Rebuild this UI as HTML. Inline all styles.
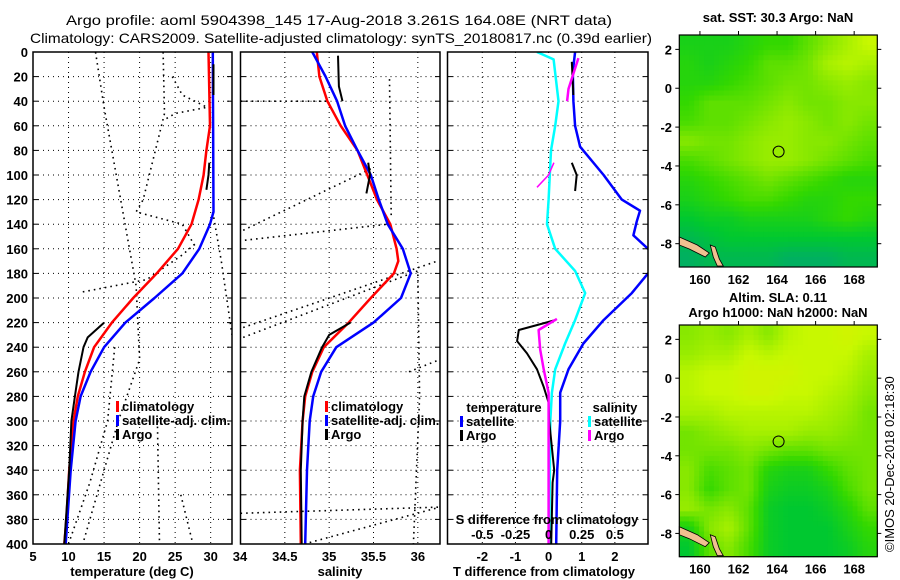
<!DOCTYPE html>
<html><head><meta charset="utf-8"><style>
html,body{margin:0;padding:0;background:#fff;}
svg{display:block;font-family:"Liberation Sans",sans-serif;}
.t{font-weight:bold;font-size:13px;fill:#000;}
</style></head><body>
<svg id="fig" width="900" height="580" viewBox="0 0 900 580" xmlns="http://www.w3.org/2000/svg">
<text x="66" y="25" textLength="546" lengthAdjust="spacingAndGlyphs" font-size="14">Argo profile: aoml 5904398_145 17-Aug-2018 3.261S 164.08E (NRT data)</text>
<text x="30" y="43" textLength="622" lengthAdjust="spacingAndGlyphs" font-size="14">Climatology: CARS2009. Satellite-adjusted climatology: synTS_20180817.nc (0.39d earlier)</text>
<text class="t" x="778" y="22" text-anchor="middle">sat. SST: 30.3 Argo: NaN</text>
<text class="t" x="778" y="302" text-anchor="middle">Altim. SLA: 0.11</text>
<text class="t" x="778" y="317" text-anchor="middle">Argo h1000: NaN h2000: NaN</text>
<text x="0" y="0" font-size="13" transform="translate(894,552) rotate(-90)">©IMOS 20-Dec-2018 02:18:30</text>
</svg>
<script>
// ---------- data ----------
const depthTicks = [0,20,40,60,80,100,120,140,160,180,200,220,240,260,280,300,320,340,360,380,400];
const tempTicks = [5,10,15,20,25,30];
const salTicks = [34,34.5,35,35.5,36];
const tdiffTicks = [-2,-1,0,1,2];
const sdiffTicks = [-0.5,-0.25,0,0.25,0.5];
const sdiffLabels = ['-0.5','-0.25','0','0.25','0.5'];

const climTDepth = [0,60,80,100,120,140,160,180,200,220,240,260,280,300,340,380,400];
const climTValue = [29.7,29.9,29.4,29.0,28.3,27.3,25.4,22.4,19.1,16.1,13.6,12.3,11.3,10.7,10.1,9.7,9.4];
const satTDepth = [0,130,140,160,180,200,220,240,260,280,300,340,400];
const satTValue = [30.3,30.4,29.9,28.4,26.0,22.1,18.0,15.0,13.1,11.7,11.0,10.3,9.6];
const argoTDepth1 = [10,35];
const argoTValue1 = [30.4,30.4];
const argoTDepth2 = [90,100,112];
const argoTValue2 = [29.8,29.7,29.4];
const argoTDepth3 = [220,232,240,260,280,300,340,400];
const argoTValue3 = [15.0,12.7,12.1,11.4,10.9,10.4,10.1,9.4];

const climSDepth = [0,20,40,60,80,100,120,140,160,170,180,200,220,240,260,280,300,340,400];
const climSValue = [34.86,34.89,34.98,35.13,35.32,35.43,35.54,35.69,35.76,35.78,35.73,35.47,35.22,34.94,34.81,34.73,34.70,34.67,34.68];
const satSDepth = [0,20,40,60,80,100,120,140,160,180,200,220,240,260,280,300,340,400];
const satSValue = [34.81,34.96,35.09,35.18,35.32,35.47,35.56,35.66,35.83,35.92,35.81,35.50,35.08,34.91,34.82,34.78,34.75,34.73];
const argoSDepth1 = [3,28,40];
const argoSValue1 = [35.10,35.11,35.15];
const argoSDepth2 = [90,100,115];
const argoSValue2 = [35.44,35.46,35.42];
const argoSDepth3 = [220,230,240,260,280,300,340,400];
const argoSValue3 = [35.24,35.00,34.92,34.80,34.72,34.70,34.68,34.69];

const satTdDepth = [0,16,40,60,77,100,120,129,138,149,160,165,175,180,196,218,237,258,277,300,340,400];
const satTdValue = [0.80,0.73,0.75,0.80,0.95,1.66,2.21,2.76,2.66,2.56,3.0,3.4,3.4,3.0,2.51,1.66,1.05,0.60,0.35,0.35,0.26,0.23];
const satSdDepth = [0,6,40,60,80,120,140,160,178,196,218,237,258,277,300,400];
const satSdValue = [-0.087,0.038,0.075,0.05,0.018,0.0,-0.012,0.05,0.2,0.276,0.2,0.125,0.05,0.025,0.013,0.005];
const argoTdDepth1 = [8,35];
const argoTdValue1 = [0.70,0.75];
const argoTdDepth2 = [90,100,113];
const argoTdValue2 = [0.70,0.85,0.80];
const argoTdDepth3 = [218,226,235,245,258,272,285,300,340,350,400];
const argoTdValue3 = [0.2,-0.9,-0.95,-0.65,-0.35,-0.15,0.0,0.02,0.17,0.12,0.08];
const argoSdDepth1 = [5,30,40];
const argoSdValue1 = [0.225,0.15,0.14];
const argoSdDepth2 = [90,100,110];
const argoSdValue2 = [0.04,0.0,-0.087];
const argoSdDepth3 = [217,226,242,258,277,300,400];
const argoSdValue3 = [0.063,-0.075,-0.063,-0.037,0.0,0.0,0.0];

// neighbouring profiles (dotted) [value, depth] pairs
const nbrT = [
 [[13.8,0],[15,45],[19.5,190],[20,250],[17,300],[14,360],[12,400]],
 [[23.3,0],[23.5,50],[20.5,120],[19.5,130],[26,140],[28,160]],
 [[24.6,20],[26,35],[29.5,45],[25,50],[23.5,55]],
 [[30.3,130],[31.5,170],[33,230]],
 [[12,195],[21,185],[26,165],[28,155]],
 [[16.5,240],[15.5,300],[13,350],[10,400]],
 [[25.8,360],[27.5,400]],
 [[22.5,300],[22.8,400]]
];
const nbrS = [
 [[34.0,40],[35.0,40]],
 [[34.03,145],[35.47,95]],
 [[34.05,153],[35.66,140]],
 [[35.68,22],[35.7,133]],
 [[34.03,224],[36.22,170]],
 [[34.03,232],[36.0,178],[36.02,280],[35.95,400]],
 [[34.0,375],[36.25,370]],
 [[34.72,400],[36.25,370]],
 [[35.9,260],[36.25,250]]
];

// map grids (0..1 colour index), rows north->south, cols west->east
const sstGrid = [
 [0.3,0.3,0.3,0.35,0.4,0.4,0.5,0.6,0.7,0.8],
 [0.35,0.3,0.35,0.4,0.5,0.5,0.55,0.7,0.75,0.7],
 [0.35,0.35,0.4,0.45,0.5,0.55,0.55,0.6,0.65,0.6],
 [0.4,0.5,0.5,0.5,0.55,0.6,0.55,0.55,0.6,0.6],
 [0.45,0.5,0.5,0.55,0.6,0.65,0.6,0.55,0.6,0.55],
 [0.6,0.55,0.55,0.6,0.65,0.65,0.6,0.6,0.55,0.5],
 [0.45,0.5,0.55,0.6,0.65,0.65,0.6,0.55,0.5,0.45],
 [0.35,0.4,0.45,0.5,0.55,0.5,0.45,0.4,0.35,0.35],
 [0.3,0.35,0.4,0.45,0.45,0.4,0.35,0.35,0.4,0.4],
 [0.2,0.25,0.25,0.3,0.3,0.3,0.3,0.35,0.4,0.35],
 [0.1,0.15,0.2,0.2,0.2,0.2,0.2,0.2,0.2,0.2],
 [0.05,0.1,0.1,0.1,0.1,0.05,0.05,0.05,0.1,0.1]
];
const slaGrid = [
 [0.6,0.65,0.6,0.7,0.6,0.75,0.8,0.8,0.85,0.8],
 [0.65,0.7,0.7,0.8,0.75,0.8,0.8,0.8,0.8,0.7],
 [0.75,0.8,0.8,0.85,0.85,0.85,0.8,0.8,0.75,0.65],
 [0.75,0.8,0.8,0.85,0.85,0.8,0.8,0.75,0.7,0.6],
 [0.7,0.7,0.75,0.75,0.75,0.75,0.75,0.7,0.65,0.55],
 [0.55,0.6,0.65,0.7,0.7,0.7,0.65,0.65,0.6,0.55],
 [0.55,0.55,0.55,0.6,0.55,0.5,0.5,0.55,0.55,0.55],
 [0.6,0.45,0.5,0.55,0.35,0.3,0.3,0.4,0.5,0.55],
 [0.6,0.4,0.5,0.55,0.3,0.25,0.25,0.3,0.45,0.55],
 [0.65,0.55,0.6,0.5,0.25,0.2,0.2,0.25,0.35,0.5],
 [0.3,0.6,0.7,0.5,0.25,0.2,0.2,0.2,0.3,0.4],
 [0.2,0.5,0.6,0.45,0.25,0.2,0.2,0.2,0.25,0.35]
];
const lonTicks = [160,162,164,166,168];
const latTicks = [2,0,-2,-4,-6,-8];
const profLon = 164.08, profLat = -3.261;

// ---------- drawing ----------
const NS = 'http://www.w3.org/2000/svg';
const svg = document.getElementById('fig');
function mk(tag, attrs, name, parent) {
  const el = document.createElementNS(NS, tag);
  for (const k in attrs) el.setAttribute(k, attrs[k]);
  
  
  (parent || svg).appendChild(el);
  return el;
}
function txt(x, y, s, name, anchor, parent) {
  const t = mk('text', {x:x, y:y, class:'t', 'text-anchor':anchor||'middle'}, name, parent);
  t.textContent = s;
  return t;
}
const Y0 = 52, Y1 = 544;
const yD = d => Y0 + d / 400 * (Y1 - Y0);
function scale(d0, d1, p0, p1) { return v => p0 + (v - d0) / (d1 - d0) * (p1 - p0); }

const P1 = {x0:33, x1:232, sx:scale(5,33,33,232)};
const P2 = {x0:240.5, x1:440, sx:scale(34,36.25,240.5,440)};
const P3 = {x0:447.5, x1:648, sx:scale(-3.05,3.0,447.5,648)};
const sdx = v => P3.sx(v * 4);

function panel(P, id) {
  const g = mk('g', {}, id + '-panel');
  const cp = mk('clipPath', {id:'clip-' + id}, id + '-clip', g);
  mk('rect', {x:P.x0, y:Y0, width:P.x1 - P.x0, height:Y1 - Y0}, id + '-clip-rect', cp);
  const inner = mk('g', {'clip-path':'url(#clip-' + id + ')'}, id + '-plot-area', g);
  depthTicks.forEach(d => {
    if (d > 0 && d < 400) {
      mk('line', {x1:P.x0, x2:P.x1, y1:yD(d), y2:yD(d), stroke:'#000', 'stroke-width':1, 'stroke-dasharray':'1 4'}, id + '-depth-gridline', inner);
    }
    mk('line', {x1:P.x0, x2:P.x0 + 5, y1:yD(d), y2:yD(d), stroke:'#000'}, id + '-depth-tick', g);
    mk('line', {x1:P.x1 - 5, x2:P.x1, y1:yD(d), y2:yD(d), stroke:'#000'}, id + '-depth-tick-right', g);
  });
  return {g:g, inner:inner};
}
function vgrid(P, ticks, sx, pan, id) {
  ticks.forEach(v => {
    const x = sx(v);
    if (x > P.x0 + 2 && x < P.x1 - 2) {
      mk('line', {x1:x, x2:x, y1:Y0, y2:Y1, stroke:'#000', 'stroke-dasharray':'1 4'}, id + '-x-gridline', pan.inner);
    }
  });
}
function series(sx, depths, values, color, w, name, parent) {
  const pts = depths.map((d, i) => sx(values[i]).toFixed(1) + ',' + yD(d).toFixed(1)).join(' ');
  return mk('polyline', {points:pts, fill:'none', stroke:color, 'stroke-width':w, 'stroke-linejoin':'round'}, name, parent);
}
function dotted(sx, prof, name, parent) {
  const pts = prof.map(p => sx(p[0]).toFixed(1) + ',' + yD(p[1]).toFixed(1)).join(' ');
  return mk('polyline', {points:pts, fill:'none', stroke:'#000', 'stroke-width':1.6, 'stroke-dasharray':'1.6 4'}, name, parent);
}
function frame(P, id, g) {
  mk('rect', {x:P.x0, y:Y0, width:P.x1 - P.x0, height:Y1 - Y0, fill:'none', stroke:'#000', 'stroke-width':1.5}, id + '-frame', g);
}
function legendEntry(x, y, color, label, name) {
  mk('rect', {x:x, y:y - 10, width:3, height:11, fill:color}, name + '-swatch');
  txt(x + 6, y, label, name, 'start');
}

// Panel 1: temperature
const p1 = panel(P1, 'temperature');
vgrid(P1, tempTicks, P1.sx, p1, 'temperature');
nbrT.forEach(p => dotted(P1.sx, p, 'neighbour-temperature-profile', p1.inner));
series(P1.sx, climTDepth, climTValue, '#ff0000', 2.5, 'climatology-temperature-line', p1.inner);
series(P1.sx, satTDepth, satTValue, '#0000ff', 2.5, 'satellite-temperature-line', p1.inner);
series(P1.sx, argoTDepth1, argoTValue1, '#000', 2, 'argo-temperature-line-top', p1.inner);
series(P1.sx, argoTDepth2, argoTValue2, '#000', 2, 'argo-temperature-line-mid', p1.inner);
series(P1.sx, argoTDepth3, argoTValue3, '#000', 2, 'argo-temperature-line-deep', p1.inner);
frame(P1, 'temperature', p1.g);
depthTicks.forEach(d => txt(28, yD(d) + 5, String(d), 'depth-tick-label', 'end'));
tempTicks.forEach(v => txt(P1.sx(v), 561, String(v), 'temperature-tick-label'));
txt(240, 561, '34', 'salinity-tick-label-34');
txt(132, 576, 'temperature (deg C)', 'temperature-axis-title');
legendEntry(116, 411, '#ff0000', 'climatology', 'legend-climatology');
legendEntry(116, 425, '#0000ff', 'satellite-adj. clim.', 'legend-satellite-adj');
legendEntry(116, 439, '#000', 'Argo', 'legend-argo');

// Panel 2: salinity
const p2 = panel(P2, 'salinity');
vgrid(P2, salTicks, P2.sx, p2, 'salinity');
nbrS.forEach(p => dotted(P2.sx, p, 'neighbour-salinity-profile', p2.inner));
series(P2.sx, climSDepth, climSValue, '#ff0000', 2.5, 'climatology-salinity-line', p2.inner);
series(P2.sx, satSDepth, satSValue, '#0000ff', 2.5, 'satellite-salinity-line', p2.inner);
series(P2.sx, argoSDepth1, argoSValue1, '#000', 2, 'argo-salinity-line-top', p2.inner);
series(P2.sx, argoSDepth2, argoSValue2, '#000', 2, 'argo-salinity-line-mid', p2.inner);
series(P2.sx, argoSDepth3, argoSValue3, '#000', 2, 'argo-salinity-line-deep', p2.inner);
frame(P2, 'salinity', p2.g);
salTicks.slice(1).forEach(v => txt(P2.sx(v), 561, String(v), 'salinity-tick-label'));
txt(340, 576, 'salinity', 'salinity-axis-title');
legendEntry(325, 411, '#ff0000', 'climatology', 'legend-climatology-s');
legendEntry(325, 425, '#0000ff', 'satellite-adj. clim.', 'legend-satellite-adj-s');
legendEntry(325, 439, '#000', 'Argo', 'legend-argo-s');

// Panel 3: differences
const p3 = panel(P3, 'difference');
vgrid(P3, tdiffTicks, P3.sx, p3, 'difference');
series(sdx, satSdDepth, satSdValue, '#00ffff', 2.5, 'satellite-salinity-difference-line', p3.inner);
series(P3.sx, satTdDepth, satTdValue, '#0000ff', 2.5, 'satellite-temperature-difference-line', p3.inner);
series(P3.sx, argoTdDepth1, argoTdValue1, '#000', 2, 'argo-temperature-difference-top', p3.inner);
series(P3.sx, argoTdDepth2, argoTdValue2, '#000', 2, 'argo-temperature-difference-mid', p3.inner);
series(P3.sx, argoTdDepth3, argoTdValue3, '#000', 2, 'argo-temperature-difference-deep', p3.inner);
series(sdx, argoSdDepth1, argoSdValue1, '#ff00ff', 2.5, 'argo-salinity-difference-top', p3.inner);
series(sdx, argoSdDepth2, argoSdValue2, '#ff00ff', 1.5, 'argo-salinity-difference-mid', p3.inner);
series(sdx, argoSdDepth3, argoSdValue3, '#ff00ff', 2.5, 'argo-salinity-difference-deep', p3.inner);
frame(P3, 'difference', p3.g);
tdiffTicks.forEach(v => txt(P3.sx(v), 561, String(v), 'temperature-difference-tick-label'));
txt(544, 576, 'T difference from climatology', 'temperature-difference-axis-title');
txt(547, 524, 'S difference from climatology', 'salinity-difference-axis-title');
sdiffTicks.forEach((v, i) => txt(sdx(v), 539, sdiffLabels[i], 'salinity-difference-tick-label'));
txt(504, 412, 'temperature', 'legend-temperature-heading');
txt(615, 412, 'salinity', 'legend-salinity-heading');
legendEntry(460, 426, '#0000ff', 'satellite', 'legend-temp-satellite');
legendEntry(460, 440, '#000', 'Argo', 'legend-temp-argo');
legendEntry(588, 426, '#00ffff', 'satellite', 'legend-sal-satellite');
legendEntry(588, 440, '#ff00ff', 'Argo', 'legend-sal-argo');

// Maps
const cmapStops = [[0,[0,168,112]],[0.2,[0,200,48]],[0.4,[51,216,0]],[0.6,[136,232,0]],[0.8,[200,248,0]],[1,[232,232,0]]];
function cmap(v) {
  for (let i = 1; i < cmapStops.length; i++) {
    if (v <= cmapStops[i][0]) {
      const a = cmapStops[i-1], b = cmapStops[i], t = (v - a[0]) / (b[0] - a[0]);
      return 'rgb(' + a[1].map((c, k) => Math.round(c + (b[1][k] - c) * t)).join(',') + ')';
    }
  }
  return 'rgb(232,232,0)';
}
function sampleGrid(grid, fr, fc) {
  const rows = grid.length, cols = grid[0].length;
  const r = Math.min(Math.max(fr * rows - 0.5, 0), rows - 1);
  const c = Math.min(Math.max(fc * cols - 0.5, 0), cols - 1);
  const r0 = Math.floor(r), c0 = Math.floor(c);
  const r1 = Math.min(r0 + 1, rows - 1), c1 = Math.min(c0 + 1, cols - 1);
  const tr = r - r0, tc = c - c0;
  const top = grid[r0][c0] * (1 - tc) + grid[r0][c1] * tc;
  const bot = grid[r1][c0] * (1 - tc) + grid[r1][c1] * tc;
  return top * (1 - tr) + bot * tr;
}
const MX0 = 679.3, MX1 = 877.3;
const lonX = scale(158.93, 169.2, MX0, MX1);
function drawMap(grid, top, bottom, id) {
  const latY = scale(2.74, -9.2, top, bottom);
  const g = mk('g', {}, id);
  const NR = 46, NC = 40;
  const cw = (MX1 - MX0) / NC, ch = (bottom - top) / NR;
  for (let r = 0; r < NR; r++) {
    for (let c = 0; c < NC; c++) {
      const v = sampleGrid(grid, (r + 0.5) / NR, (c + 0.5) / NC);
      mk('rect', {x:(MX0 + c * cw).toFixed(2), y:(top + r * ch).toFixed(2), width:(cw + 0.5).toFixed(2), height:(ch + 0.5).toFixed(2), fill:cmap(v)}, id + '-cell', g);
    }
  }
  // land (New Guinea / Solomon area fragments, bottom-left)
  mk('path', {d:'M'+MX0+','+(bottom-30)+' L'+(MX0+18)+','+(bottom-22)+' L'+(MX0+30)+','+(bottom-14)+' L'+(MX0+26)+','+(bottom-10)+' L'+(MX0+10)+','+(bottom-18)+' L'+MX0+','+(bottom-22)+' Z', fill:'#f0c090', stroke:'#000', 'stroke-width':0.8}, id + '-land', g);
  mk('path', {d:'M'+(MX0+31)+','+(bottom-22)+' L'+(MX0+36)+','+(bottom-20)+' L'+(MX0+40)+','+(bottom-8)+' L'+(MX0+44)+','+(bottom-1)+' L'+(MX0+38)+','+(bottom-1)+' L'+(MX0+34)+','+(bottom-10)+' Z', fill:'#f0c090', stroke:'#000', 'stroke-width':0.8}, id + '-land-island', g);
  mk('rect', {x:MX0, y:top, width:MX1 - MX0, height:bottom - top, fill:'none', stroke:'#000', 'stroke-width':1.2}, id + '-frame', g);
  mk('circle', {cx:lonX(profLon), cy:latY(profLat), r:5.5, fill:'none', stroke:'#000', 'stroke-width':1}, id + '-profile-location', g);
  lonTicks.forEach(v => {
    mk('line', {x1:lonX(v), x2:lonX(v), y1:top - 4, y2:top, stroke:'#000'}, id + '-lon-tick', g);
    txt(lonX(v), bottom + 17, String(v), id + '-lon-label', 'middle', g);
  });
  latTicks.forEach(v => {
    mk('line', {x1:MX0 - 4, x2:MX0, y1:latY(v), y2:latY(v), stroke:'#000'}, id + '-lat-tick', g);
    mk('line', {x1:MX1, x2:MX1 + 4, y1:latY(v), y2:latY(v), stroke:'#000'}, id + '-lat-tick-right', g);
    txt(672, latY(v) + 5, String(v), id + '-lat-label', 'end', g);
  });
}
drawMap(sstGrid, 35, 267, 'sst-map');
drawMap(slaGrid, 325, 556.7, 'sla-map');
</script>
</body></html>
